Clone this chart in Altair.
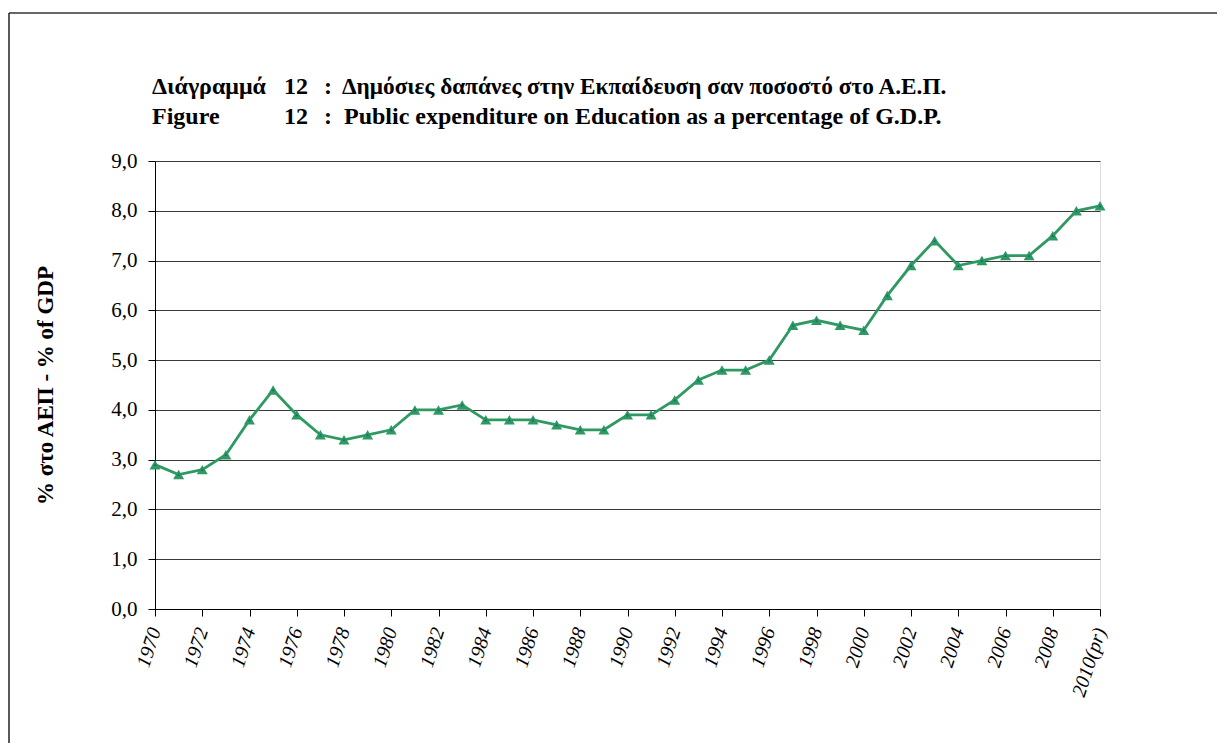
import altair as alt
import pandas as pd

years = list(range(1970, 2011))
values = [2.9, 2.7, 2.8, 3.1, 3.8, 4.4, 3.9, 3.5, 3.4, 3.5,
          3.6, 4.0, 4.0, 4.1, 3.8, 3.8, 3.8, 3.7, 3.6, 3.6,
          3.9, 3.9, 4.2, 4.6, 4.8, 4.8, 5.0, 5.7, 5.8, 5.7,
          5.6, 6.3, 6.9, 7.4, 6.9, 7.0, 7.1, 7.1, 7.5, 8.0, 8.1]
y_ticks = [0, 1, 2, 3, 4, 5, 6, 7, 8, 9]

title_gr_label = "Διάγραμμά"
title_en_label = "Figure"
title_num = "12"
title_gr = "Δημόσιες δαπάνες στην Εκπαίδευση σαν ποσοστό στο Α.Ε.Π."
title_en = "Public expenditure on Education as a percentage of G.D.P."
y_title = "% στο ΑΕΠ - % of GDP"

df = pd.DataFrame({"year": years, "value": values})

FONT = "Liberation Serif"
GREEN = "#2E9A62"

x_enc = alt.X("year:Q",
              scale=alt.Scale(domain=[1970, 2010], nice=False, zero=False),
              axis=alt.Axis(values=years, tickSize=7, tickColor="black",
                            domainColor="black", grid=False,
                            labelExpr="datum.value % 2 == 0 ? (datum.value == 2010 ? '2010(pr)' : toString(datum.value)) : ''",
                            labelAngle=-72, labelAlign="right", labelBaseline="middle",
                            labelPadding=12, labelFont=FONT, labelFontSize=20,
                            labelFontStyle="italic", labelColor="black",
                            labelOverlap=False, labelFlush=False, title=None))
y_enc = alt.Y("value:Q",
              scale=alt.Scale(domain=[0, 9], nice=False),
              axis=alt.Axis(values=y_ticks, tickSize=7, tickColor="black",
                            domainColor="black", gridColor="#3a3a3a", gridWidth=1,
                            labelExpr="replace(format(datum.value, '.1f'), '.', ',')",
                            labelFont=FONT, labelFontSize=21, labelColor="black",
                            labelPadding=11,
                            title=y_title, titleFont=FONT, titleFontSize=23,
                            titleFontWeight="bold", titleColor="black",
                            titleAngle=-90, titleX=-110, titleY=224,
                            titleAlign="center", titleBaseline="middle"))

base = alt.Chart(df)
line = base.mark_line(color=GREEN, strokeWidth=2.8).encode(x=x_enc, y=y_enc)
pts = base.mark_point(shape="triangle-up", filled=True, color=GREEN, size=120,
                      opacity=1).encode(x="year:Q", y="value:Q")
inner = base.mark_point(shape="triangle-up", filled=True, color="#1F6E78", size=10,
                        opacity=1).encode(x="year:Q", y="value:Q")

one = pd.DataFrame({"d": [0]})


def txt(t, x, y, size=24):
    return alt.Chart(one).mark_text(text=t, font=FONT, fontSize=size, fontWeight="bold",
                                    align="left", baseline="alphabetic",
                                    color="black").encode(x=alt.value(x), y=alt.value(y))


titles = [
    txt(title_gr_label, -3, -67),
    txt(title_num, 129, -67),
    txt(":", 169, -67),
    txt(title_gr, 187, -67, 23.3),
    txt(title_en_label, -3, -37),
    txt(title_num, 129, -37),
    txt(":", 169, -37),
    txt(title_en, 189, -37),
]

frame_top = alt.Chart(one).mark_rule(color="#333333", strokeWidth=1.5).encode(
    x=alt.value(-146), x2=alt.value(1070), y=alt.value(-148))
frame_left = alt.Chart(one).mark_rule(color="#222222", strokeWidth=1.5).encode(
    x=alt.value(-146), y=alt.value(-148), y2=alt.value(590))

chart = alt.layer(line, pts, inner, frame_top, frame_left, *titles).properties(
    width=945, height=448,
    autosize="none",
    padding={"left": 147, "top": 153, "right": 117, "bottom": 134},
).configure_view(stroke="#444444", strokeWidth=1).configure(background="white")

chart.save("out.html", embed_options={"renderer": "svg", "actions": False})
